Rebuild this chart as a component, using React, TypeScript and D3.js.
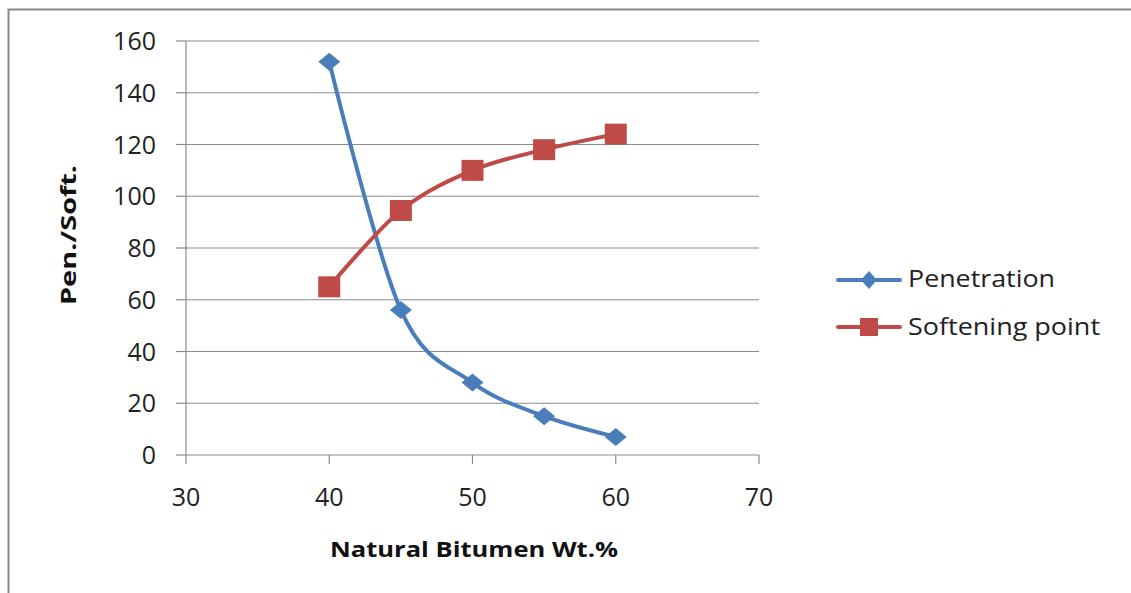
import React from "react";
import * as d3 from "d3";

const xValues = [40, 45, 50, 55, 60];
const penetration = [152, 56, 28, 15, 7];
const softening = [65, 94.5, 110, 118, 124];
const xTicks = [30, 40, 50, 60, 70];
const yTicks = [0, 20, 40, 60, 80, 100, 120, 140, 160];
const seriesNames = ["Penetration", "Softening point"];

const W = 1131;
const H = 593;
const FONT = "'Open Sans', 'Noto Sans', sans-serif";
const BLUE = "#4A7EBB";
const RED = "#BE4B48";
const GRID = "#8C8C8C";

export default function App() {
  const x = d3.scaleLinear().domain([30, 70]).range([186, 759]);
  const y = d3.scaleLinear().domain([0, 160]).range([455, 41]);
  const line = d3
    .line<number>()
    .x((_, i) => x(xValues[i]))
    .y((d) => y(d))
    .curve(d3.curveCardinal.tension(0));

  return (
    <svg
      width={W}
      height={H}
      style={{ position: "absolute", left: 0, top: 0 }}
      fontFamily={FONT}
    >
      <rect x={0} y={0} width={W} height={H} fill="#fff" />
      <rect x={8.5} y={9.5} width={W + 10} height={H + 10} fill="none" stroke="#888" strokeWidth={2} />
      {yTicks.map((t) => (
        <g key={t}>
          {t > 0 && (
            <line x1={186} x2={759} y1={y(t)} y2={y(t)} stroke={GRID} strokeWidth={1.2} />
          )}
          <line x1={176} x2={186} y1={y(t)} y2={y(t)} stroke={GRID} strokeWidth={1.2} />
          <text x={156} y={y(t)} dy="0.36em" textAnchor="end" fontSize={25} fill="#222">
            {t}
          </text>
        </g>
      ))}
      <line x1={186} x2={186} y1={41} y2={455} stroke={GRID} strokeWidth={1.2} />
      <line x1={186} x2={759} y1={455} y2={455} stroke={GRID} strokeWidth={1.2} />
      {xTicks.map((t) => (
        <g key={t}>
          <line x1={x(t)} x2={x(t)} y1={455} y2={464} stroke={GRID} strokeWidth={1.2} />
          <text x={x(t)} y={506} textAnchor="middle" fontSize={25} fill="#222">
            {t}
          </text>
        </g>
      ))}
      <text
        x={330}
        y={557}
        fontSize={21}
        fontWeight="bold"
        fill="#111"
        textLength={288}
        lengthAdjust="spacingAndGlyphs"
      >
        Natural Bitumen Wt.%
      </text>
      <text
        transform="translate(76,305) rotate(-90)"
        fontSize={21}
        fontWeight="bold"
        fill="#111"
        textLength={140}
        lengthAdjust="spacingAndGlyphs"
      >
        Pen./Soft.
      </text>

      <path d={line(penetration) || ""} fill="none" stroke={BLUE} strokeWidth={4} />
      <path d={line(softening) || ""} fill="none" stroke={RED} strokeWidth={4} />
      {penetration.map((v, i) => (
        <path
          key={"p" + i}
          d={`M${x(xValues[i])},${y(v) - 9} l11,9 l-11,9 l-11,-9 Z`}
          fill={BLUE}
        />
      ))}
      {softening.map((v, i) => (
        <rect
          key={"s" + i}
          x={x(xValues[i]) - 11}
          y={y(v) - 10.5}
          width={22}
          height={21}
          fill={RED}
        />
      ))}

      <g>
        <line x1={838} x2={900} y1={280} y2={280} stroke={BLUE} strokeWidth={4} strokeLinecap="round" />
        <path d="M869,271 l8,9 l-8,9 l-8,-9 Z" fill={BLUE} />
        <text x={908} y={287} fontSize={23} fill="#222" textLength={147} lengthAdjust="spacingAndGlyphs">
          {seriesNames[0]}
        </text>
        <line x1={838} x2={900} y1={327} y2={327} stroke={RED} strokeWidth={4} strokeLinecap="round" />
        <rect x={860} y={318} width={18} height={18} fill={RED} />
        <text x={908} y={335} fontSize={23} fill="#222" textLength={192} lengthAdjust="spacingAndGlyphs">
          {seriesNames[1]}
        </text>
      </g>
    </svg>
  );
}
